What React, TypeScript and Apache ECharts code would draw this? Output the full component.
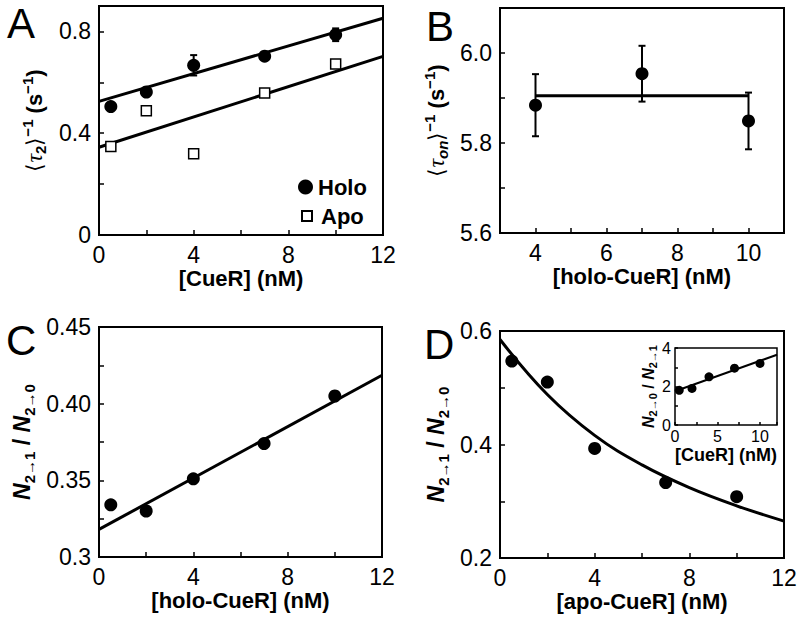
import React, { useEffect, useRef } from "react";
import * as echarts from "echarts";

// ---------- Panel A ----------
const aX = [0.5, 2, 4, 7, 10];
const aHolo = [0.505, 0.562, 0.667, 0.703, 0.787];
const aApo = [0.348, 0.488, 0.319, 0.558, 0.672];
const aHoloErrX = [4, 10];
const aHoloErr = [0.04, 0.025];
const aFitX = [0, 12];
const aHoloFit = [0.525, 0.852];
const aApoFit = [0.345, 0.702];
const aXLabels = ["0", "4", "8", "12"];
const aYLabels = ["0", "0.4", "0.8"];

// ---------- Panel B ----------
const bX = [4, 7, 10];
const bY = [5.884, 5.954, 5.849];
const bErr = [0.069, 0.062, 0.063];
const bFitX = [4, 10];
const bFit = [5.905, 5.905];
const bXLabels = ["4", "6", "8", "10"];
const bYLabels = ["5.6", "5.8", "6.0"];

// ---------- Panel C ----------
const cX = [0.5, 2, 4, 7, 10];
const cY = [0.334, 0.33, 0.351, 0.374, 0.405];
const cFitX = [0, 12];
const cFit = [0.318, 0.4185];
const cXLabels = ["0", "4", "8", "12"];
const cYLabels = ["0.3", "0.35", "0.40", "0.45"];

// ---------- Panel D ----------
const dX = [0.5, 2, 4, 7, 10];
const dY = [0.547, 0.51, 0.393, 0.333, 0.308];
const dFitX = [0, 2, 4, 6, 8, 10, 12];
const dFit = [0.585, 0.488, 0.416, 0.364, 0.324, 0.292, 0.265];
const dXLabels = ["0", "4", "8", "12"];
const dYLabels = ["0.2", "0.4", "0.6"];

// ---------- Panel D inset ----------
const eX = [0.5, 2, 4, 7, 10];
const eY = [1.8, 1.9, 2.5, 2.95, 3.2];
const eFitX = [0, 12];
const eFit = [1.75, 3.65];
const eXLabels = ["0", "5", "10"];
const eYLabels = ["0", "2", "4"];

const FONT = '"Liberation Sans", Arial, Helvetica, sans-serif';

const pts = (xs: number[], ys: number[]) => xs.map((x, i) => [x, ys[i]]);
const labelFn = (labels: string[]) => (v: number) =>
  labels.find((s) => Math.abs(parseFloat(s) - v) < 1e-6) ?? "";

function axis(
  gridIndex: number,
  min: number,
  max: number,
  interval: number,
  labels: string[],
  name: string,
  nameGap: number,
  nameTextStyle: any,
  fontSize = 23,
  margin = 8,
  tickLen = 5
) {
  return {
    type: "value",
    gridIndex,
    min,
    max,
    interval,
    name,
    nameLocation: "middle",
    nameGap,
    nameTextStyle,
    axisLine: { show: false },
    splitLine: { show: false },
    axisTick: {
      show: true,
      inside: true,
      length: tickLen,
      lineStyle: { color: "#000", width: 1.5 },
    },
    axisLabel: {
      formatter: labelFn(labels),
      fontSize,
      fontFamily: FONT,
      color: "#000",
      margin,
    },
  };
}

const xName = (size: number) => ({
  fontSize: size,
  fontWeight: "bold",
  fontFamily: FONT,
  color: "#000",
});

const tauRich = (size: number) => ({
  fontSize: size,
  fontFamily: FONT,
  color: "#000",
  rich: {
    a: { fontSize: size, fontFamily: FONT, lineHeight: 28, color: "#000" },
    b: { fontSize: size, fontWeight: "bold", fontFamily: FONT, lineHeight: 28, color: "#000" },
    t: { fontSize: size + 2, fontStyle: "italic", fontFamily: '"Liberation Serif", serif', lineHeight: 28, color: "#000" },
    sub: { fontSize: 15, fontFamily: FONT, fontWeight: "bold", lineHeight: 15, verticalAlign: "bottom", color: "#000" },
    subi: { fontSize: 15, fontFamily: FONT, fontStyle: "italic", fontWeight: "bold", lineHeight: 15, verticalAlign: "bottom", color: "#000" },
    sup: { fontSize: 15, fontFamily: FONT, fontWeight: "bold", lineHeight: 15, verticalAlign: "top", color: "#000" },
  },
});

const nRich = (size: number, sub: number, lh: number) => ({
  fontSize: size,
  fontFamily: FONT,
  color: "#000",
  rich: {
    n: { fontSize: size, fontWeight: "bold", fontStyle: "italic", fontFamily: FONT, lineHeight: lh, color: "#000" },
    b: { fontSize: size, fontWeight: "bold", fontFamily: FONT, lineHeight: lh, color: "#000" },
    s: { fontSize: sub, fontWeight: "bold", fontFamily: FONT, lineHeight: sub, verticalAlign: "bottom", color: "#000" },
  },
});

function errRender(params: any, api: any) {
  const x = api.value(0);
  const lo = api.coord([x, api.value(1)]);
  const hi = api.coord([x, api.value(2)]);
  const w = 3.5;
  const style = { stroke: "#000", lineWidth: 2, fill: null };
  return {
    type: "group",
    children: [
      { type: "line", shape: { x1: lo[0], y1: lo[1], x2: hi[0], y2: hi[1] }, style },
      { type: "line", shape: { x1: hi[0] - w, y1: hi[1], x2: hi[0] + w, y2: hi[1] }, style },
      { type: "line", shape: { x1: lo[0] - w, y1: lo[1], x2: lo[0] + w, y2: lo[1] }, style },
    ],
  };
}

const fitLine = (xi: number, data: number[][], width = 3, smooth: any = false) => ({
  type: "line",
  xAxisIndex: xi,
  yAxisIndex: xi,
  data,
  symbol: "none",
  smooth,
  silent: true,
  lineStyle: { color: "#000", width },
  z: 2,
});

const dots = (xi: number, data: number[][], size = 13, name?: string) => ({
  type: "scatter",
  name,
  xAxisIndex: xi,
  yAxisIndex: xi,
  data,
  symbol: "circle",
  symbolSize: size,
  itemStyle: { color: "#000", opacity: 1 },
  z: 4,
});

export default function App() {
  const ref = useRef<HTMLDivElement>(null);

  useEffect(() => {
    document.body.style.margin = "0";
    if (!ref.current) return;
    const chart = echarts.init(ref.current, null, { renderer: "svg" });

    const aErrData = aHoloErrX.map((x, i) => {
      const y = aHolo[aX.indexOf(x)];
      return [x, y - aHoloErr[i], y + aHoloErr[i]];
    });
    const bErrData = bX.map((x, i) => [x, bY[i] - bErr[i], bY[i] + bErr[i]]);

    const border = { show: true, borderColor: "#000", borderWidth: 2, backgroundColor: "#fff" };

    const option: any = {
      animation: false,
      backgroundColor: "#fff",
      textStyle: { fontFamily: FONT },
      grid: [
        { left: 99, top: 6, width: 284, height: 229, ...border },
        { left: 500, top: 8, width: 284, height: 225, ...border },
        { left: 99, top: 327, width: 283, height: 230, ...border },
        { left: 500, top: 331, width: 284, height: 227, ...border },
        { left: 675, top: 348, width: 102, height: 77, show: true, borderColor: "#000", borderWidth: 1.5, backgroundColor: "#fff", z: 5 },
      ],
      xAxis: [
        axis(0, 0, 12, 2, aXLabels, "[CueR] (nM)", 32, xName(22)),
        axis(1, 3, 11, 1, bXLabels, "[holo-CueR] (nM)", 32, xName(22)),
        axis(2, 0, 12, 2, cXLabels, "[holo-CueR] (nM)", 32, xName(22)),
        axis(3, 0, 12, 2, dXLabels, "[apo-CueR] (nM)", 32, xName(22)),
        { ...axis(4, 0, 12, 2.5, eXLabels, "[CueR] (nM)", 21, xName(18), 16, 3, 3), z: 6 },
      ],
      yAxis: [
        axis(0, 0, 0.9, 0.2, aYLabels, "{a|⟨}{t|τ}{sub|2}{a|⟩}{sup|−1}{b| (s}{sup|−1}{b|)}", 51, tauRich(22)),
        axis(1, 5.6, 6.1, 0.1, bYLabels, "{a|⟨}{t|τ}{subi|on}{a|⟩}{sup|−1}{b| (s}{sup|−1}{b|)}", 50, tauRich(22)),
        axis(2, 0.3, 0.45, 0.025, cYLabels, "{n|N}{s|2→1}{b| / }{n|N}{s|2→0}", 62, nRich(23, 15, 30)),
        axis(3, 0.2, 0.6, 0.1, dYLabels, "{n|N}{s|2→1}{b| / }{n|N}{s|2→0}", 49, nRich(23, 15, 30)),
        { ...axis(4, 0, 4, 1, eYLabels, "{n|N}{s|2→0}{b| / }{n|N}{s|2→1}", 13, nRich(16, 11, 20), 16, 4, 3), z: 6 },
      ],
      legend: [
        {
          data: ["Holo"],
          left: 298,
          top: 176,
          padding: 0,
          itemWidth: 15,
          itemHeight: 15,
          selectedMode: false,
          textStyle: { fontSize: 22, fontWeight: "bold", color: "#000", fontFamily: FONT },
        },
        {
          data: ["Apo"],
          left: 301,
          top: 205,
          padding: 0,
          itemWidth: 10,
          itemHeight: 10,
          selectedMode: false,
          textStyle: { fontSize: 22, fontWeight: "bold", color: "#000", fontFamily: FONT, padding: [0, 0, 0, 4] },
        },
      ],
      graphic: [
        { type: "text", x: 7, y: 23, style: { text: "A", fontSize: 42, fontFamily: FONT, fill: "#000", verticalAlign: "middle" } },
        { type: "text", x: 426, y: 26, style: { text: "B", fontSize: 42, fontFamily: FONT, fill: "#000", verticalAlign: "middle" } },
        { type: "text", x: 6, y: 340, style: { text: "C", fontSize: 42, fontFamily: FONT, fill: "#000", verticalAlign: "middle" } },
        { type: "text", x: 424, y: 344, style: { text: "D", fontSize: 42, fontFamily: FONT, fill: "#000", verticalAlign: "middle" } },
      ],
      series: [
        // A
        fitLine(0, pts(aFitX, aHoloFit)),
        fitLine(0, pts(aFitX, aApoFit)),
        { type: "custom", xAxisIndex: 0, yAxisIndex: 0, data: aErrData, renderItem: errRender, encode: { x: 0, y: [1, 2] }, z: 3, silent: true },
        dots(0, pts(aX, aHolo), 13, "Holo"),
        {
          type: "scatter",
          name: "Apo",
          xAxisIndex: 0,
          yAxisIndex: 0,
          data: pts(aX, aApo),
          symbol: "rect",
          symbolSize: 10,
          itemStyle: { color: "#fff", borderColor: "#000", borderWidth: 1.5, opacity: 1 },
          z: 4,
        },
        // B
        fitLine(1, pts(bFitX, bFit)),
        { type: "custom", xAxisIndex: 1, yAxisIndex: 1, data: bErrData, renderItem: errRender, encode: { x: 0, y: [1, 2] }, z: 3, silent: true },
        dots(1, pts(bX, bY)),
        // C
        fitLine(2, pts(cFitX, cFit)),
        dots(2, pts(cX, cY)),
        // D
        fitLine(3, pts(dFitX, dFit), 3, 0.4),
        dots(3, pts(dX, dY)),
        // inset
        { ...fitLine(4, pts(eFitX, eFit), 2), z: 7 },
        { ...dots(4, pts(eX, eY), 9), z: 8 },
      ],
    };

    chart.setOption(option);
    return () => chart.dispose();
  }, []);

  return <div ref={ref} style={{ width: 804, height: 620 }} />;
}
